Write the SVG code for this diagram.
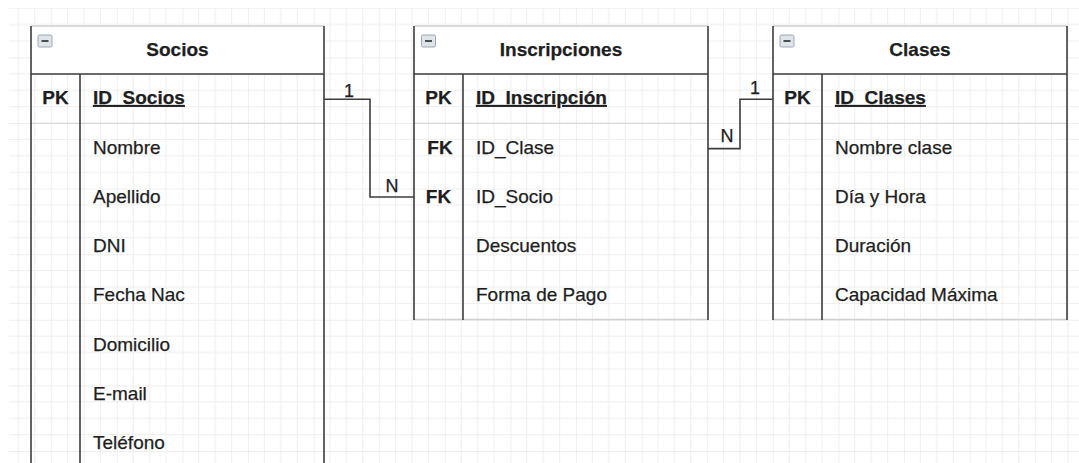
<svg xmlns="http://www.w3.org/2000/svg" width="1079" height="463" viewBox="0 0 1079 463">
<defs>
<pattern id="grid" patternUnits="userSpaceOnUse" x="51.2" y="57.4" width="65.6" height="65.6">
<path d="M16.4,0V65.6M32.8,0V65.6M49.2,0V65.6M0,16.4H65.6M0,32.8H65.6M0,49.2H65.6" stroke="#eeeeee" stroke-width="1" fill="none"/>
<path d="M0,0V65.6M0,0H65.6" stroke="#e0e0e0" stroke-width="1" fill="none"/>
</pattern>
<g id="minus">
<rect x="0" y="0" width="14" height="12" rx="1.5" fill="#dfe3ea" stroke="#9ea6b3" stroke-width="1"/>
<rect x="3.5" y="5" width="7" height="2" fill="#4a4f58"/>
</g>
</defs>
<style>
.ln{stroke:#3d3d3d;stroke-width:1.6;fill:none}
.lt{stroke:#cfcfcf;stroke-width:1.6;fill:none}
.sep{stroke:#d6d6d6;stroke-width:1.2;fill:none}
.hdr{fill:#ffffff;stroke:none}
.t{font-family:"Liberation Sans",Arial,sans-serif;font-size:19px;fill:#1e1e1e;stroke:#1e1e1e;stroke-width:0.25}
.b{font-weight:bold}
.c{text-anchor:middle}
.u{text-decoration:underline}
.lbl{font-family:"Liberation Sans",Arial,sans-serif;font-size:18px;fill:#1e1e1e;stroke:#1e1e1e;stroke-width:0.25;text-anchor:middle}
</style>
<rect x="0" y="0" width="1079" height="463" fill="#ffffff"/>
<rect x="9" y="8" width="1070" height="455" fill="url(#grid)"/>

<g id="connectors">
<path class="ln" d="M324,99.3H370V197H414"/>
<path class="ln" d="M708,148.6H740V99.3H773"/>
<text class="lbl" x="349" y="97">1</text>
<text class="lbl" x="392" y="192">N</text>
<text class="lbl" x="727" y="142">N</text>
<text class="lbl" x="755" y="94">1</text>
</g>

<g id="node-socios">
<rect class="hdr" x="31" y="26" width="293" height="48"/>
<path class="lt" d="M31,26H324"/>
<path class="sep" d="M31,123.3H324"/>
<path class="ln" d="M31,26V470M324,26V470M80,74V470M31,74H324"/>
<use href="#minus" x="38" y="35"/>
<text class="t b c" x="177.5" y="56">Socios</text>
<text class="t b c" x="55.5" y="104">PK</text>
<text class="t b u" x="93" y="104">ID_Socios</text>
<text class="t" x="93" y="153.5">Nombre</text>
<text class="t" x="93" y="202.8">Apellido</text>
<text class="t" x="93" y="252">DNI</text>
<text class="t" x="93" y="301.3">Fecha Nac</text>
<text class="t" x="93" y="350.6">Domicilio</text>
<text class="t" x="93" y="400">E-mail</text>
<text class="t" x="93" y="449">Teléfono</text>
</g>

<g id="node-inscripciones">
<rect class="hdr" x="414" y="26" width="294" height="48"/>
<path class="lt" d="M414,26H708M414,319.5H708"/>
<path class="sep" d="M414,123.3H708"/>
<path class="ln" d="M414,26V320M708,26V320M463,74V320M414,74H708"/>
<use href="#minus" x="421.5" y="35"/>
<text class="t b c" x="561" y="56">Inscripciones</text>
<text class="t b c" x="438.5" y="104">PK</text>
<text class="t b u" x="476" y="104">ID_Inscripción</text>
<text class="t b c" x="440" y="153.5">FK</text>
<text class="t" x="476" y="153.5">ID_Clase</text>
<text class="t b c" x="438.5" y="202.8">FK</text>
<text class="t" x="476" y="202.8">ID_Socio</text>
<text class="t" x="476" y="252">Descuentos</text>
<text class="t" x="476" y="301.3">Forma de Pago</text>
</g>

<g id="node-clases">
<rect class="hdr" x="773" y="26" width="294" height="48"/>
<path class="lt" d="M773,26H1067M773,319.5H1067"/>
<path class="sep" d="M773,123.3H1067"/>
<path class="ln" d="M773,26V320M1067,26V320M822,74V320M773,74H1067"/>
<use href="#minus" x="780" y="35"/>
<text class="t b c" x="920" y="56">Clases</text>
<text class="t b c" x="797.5" y="104">PK</text>
<text class="t b u" x="835" y="104">ID_Clases</text>
<text class="t" x="835" y="153.5">Nombre clase</text>
<text class="t" x="835" y="202.8">Día y Hora</text>
<text class="t" x="835" y="252">Duración</text>
<text class="t" x="835" y="301.3">Capacidad Máxima</text>
</g>
</svg>
